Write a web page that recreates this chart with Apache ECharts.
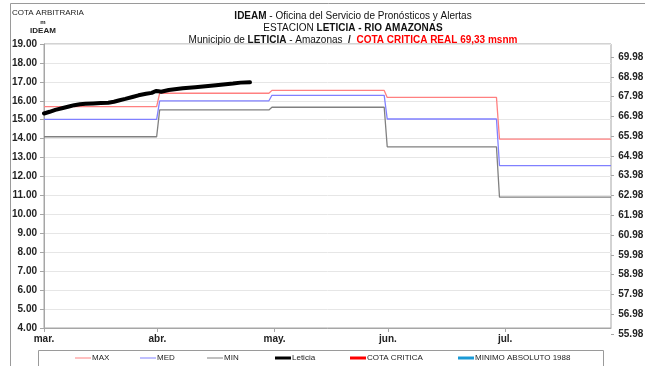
<!DOCTYPE html>
<html>
<head>
<meta charset="utf-8">
<script src="https://cdn.jsdelivr.net/npm/echarts@6/dist/echarts.min.js"></script>
<style>
  html, body { margin: 0; padding: 0; background: #fff; }
  #chart { width: 645px; height: 366px; }
</style>
</head>
<body>
<div id="chart"></div>
<script>
// Monthly stage envelopes (m, arbitrary datum), Mar..Jul; x in days from 1 March
var monthLabels = ['mar.', 'abr.', 'may.', 'jun.', 'jul.'];
var monthTickDays = [0, 30, 61, 91, 122];
var monthStartDays = [0, 30.6, 60.3, 90.8, 120.5];
var periodEndDay = 150;
var maxLevels = [15.69, 16.40, 16.55, 16.18, 13.98];
var medLevels = [15.02, 16.00, 16.29, 15.04, 12.58];
var minLevels = [14.10, 15.52, 15.66, 13.57, 10.91];

// Observed stage at Leticia
var leticiaDays = [0, 1.5, 3, 5, 6.6, 8, 9.5, 11, 13, 15, 17, 18.5, 20, 21.5, 23.4, 25, 27, 28.5, 29.6, 30.3, 31, 33, 36.7, 40, 45.5, 50, 52, 54.5];
var leticiaLevels = [15.33, 15.42, 15.52, 15.62, 15.70, 15.77, 15.82, 15.84, 15.86, 15.88, 15.90, 15.95, 16.03, 16.10, 16.20, 16.29, 16.37, 16.42, 16.52, 16.50, 16.48, 16.57, 16.66, 16.72, 16.82, 16.91, 16.96, 16.98];

// Left axis: arbitrary datum (m). Right axis: elevation in msnm, its own scale
var yMin = 4, yMax = 19, yStep = 1;
var msnmBase = 55.98, msnmSteps = 14;

// Legend entries: name, colour, line thickness, left position
var legendNames = ['MAX', 'MED', 'MIN', 'Leticia', 'COTA CRITICA', 'MINIMO ABSOLUTO 1988'];
var legendColors = ['#ff8080', '#8080ff', '#808080', '#000000', '#ff0000', '#1a9ad6'];
var legendThick = [1, 1, 1, 3, 3, 3];
var legendLeft = [75, 140, 207, 275, 350, 458];

function stepLine(levels) {
  var pts = [];
  for (var i = 0; i < levels.length; i++) {
    var start = monthStartDays[i];
    var end = i + 1 < monthStartDays.length ? monthStartDays[i + 1] - 0.8 : periodEndDay;
    pts.push([start, levels[i]], [end, levels[i]]);
  }
  return pts;
}

function leticiaLine() {
  return leticiaDays.map(function (d, i) { return [d, leticiaLevels[i]]; });
}

var FONT = 'Liberation Sans, Arial, sans-serif';
var chart = echarts.init(document.getElementById('chart'), null, { renderer: 'canvas' });

var legends = legendNames.map(function (name, i) {
  return {
    left: legendLeft[i], top: 354, padding: 0, icon: 'rect', itemWidth: 16, itemHeight: legendThick[i], itemGap: 0,
    selectedMode: false,
    textStyle: { fontFamily: FONT, fontSize: 8, color: '#222', padding: [0, 0, 0, -4] },
    itemStyle: { color: legendColors[i] },
    data: [name]
  };
});

chart.setOption({
  animation: false,
  backgroundColor: '#ffffff',
  textStyle: { fontFamily: FONT },
  grid: [
    { left: 44, right: 34, top: 44, bottom: 38, show: true, borderColor: '#a6a6a6', borderWidth: 1 },
    { left: 611, right: 33, top: 57, bottom: 32 }
  ],
  title: [
    {
      left: 348, textAlign: 'center', top: 5, itemGap: 0,
      text: '{b|IDEAM} - Oficina del Servicio de Pronósticos y Alertas\n' +
            'ESTACION {b|LETICIA - RIO AMAZONAS}\n' +
            'Municipio de {b|LETICIA} - Amazonas  {b|/}  {r|COTA CRITICA REAL 69,33 msnm}',
      textStyle: {
        fontFamily: FONT, fontSize: 10, fontWeight: 'normal', color: '#111', lineHeight: 12, align: 'center',
        rich: {
          b: { fontFamily: FONT, fontSize: 10, fontWeight: 'bold', color: '#111', lineHeight: 12 },
          r: { fontFamily: FONT, fontSize: 10, fontWeight: 'bold', color: '#ff0000', lineHeight: 12 }
        }
      }
    }
  ],
  legend: legends,
  xAxis: [
    {
      type: 'value', min: 0, max: periodEndDay, gridIndex: 0,
      axisLine: { lineStyle: { color: '#a6a6a6' } },
      axisTick: { show: true, length: 4, customValues: monthTickDays, lineStyle: { color: '#a6a6a6' } },
      axisLabel: {
        customValues: monthTickDays, margin: 6,
        fontFamily: FONT, fontSize: 10, fontWeight: 'bold', color: '#222',
        formatter: function (v) { return monthLabels[monthTickDays.indexOf(v)] || ''; }
      },
      splitLine: { show: false }
    },
    { type: 'value', gridIndex: 1, show: false, min: 0, max: 1 }
  ],
  yAxis: [
    {
      type: 'value', min: yMin, max: yMax, interval: yStep, gridIndex: 0,
      axisLine: { show: true, lineStyle: { color: '#a6a6a6' } },
      axisTick: { show: true, length: 4, lineStyle: { color: '#a6a6a6' } },
      axisLabel: { margin: 7, fontFamily: FONT, fontSize: 10, fontWeight: 'bold', color: '#222',
        formatter: function (v) { return v.toFixed(2); } },
      splitLine: { show: true, lineStyle: { color: '#e6e6e6', width: 1 } }
    },
    {
      type: 'value', min: 0, max: msnmSteps, interval: 1, gridIndex: 1, position: 'right',
      axisLine: { show: false },
      axisTick: { show: true, length: 3, lineStyle: { color: '#a6a6a6' } },
      axisLabel: { margin: 7, fontFamily: FONT, fontSize: 10, fontWeight: 'bold', color: '#222',
        formatter: function (v) { return (v + msnmBase).toFixed(2); } },
      splitLine: { show: false }
    }
  ],
  series: [
    { name: 'MAX', type: 'line', symbol: 'none', data: stepLine(maxLevels),
      lineStyle: { color: legendColors[0], width: 1.3 }, itemStyle: { color: legendColors[0] }, z: 2 },
    { name: 'MED', type: 'line', symbol: 'none', data: stepLine(medLevels),
      lineStyle: { color: legendColors[1], width: 1.3 }, itemStyle: { color: legendColors[1] }, z: 2 },
    { name: 'MIN', type: 'line', symbol: 'none', data: stepLine(minLevels),
      lineStyle: { color: legendColors[2], width: 1.3 }, itemStyle: { color: legendColors[2] }, z: 2 },
    { name: 'Leticia', type: 'line', symbol: 'none', data: leticiaLine(),
      lineStyle: { color: legendColors[3], width: 4, cap: 'round', join: 'round' }, itemStyle: { color: legendColors[3] }, z: 4 },
    { name: 'COTA CRITICA', type: 'line', symbol: 'none', data: [],
      lineStyle: { color: legendColors[4], width: 4 }, itemStyle: { color: legendColors[4] } },
    { name: 'MINIMO ABSOLUTO 1988', type: 'line', symbol: 'none', data: [],
      lineStyle: { color: legendColors[5], width: 4 }, itemStyle: { color: legendColors[5] } }
  ],
  graphic: [
    { type: 'rect', silent: true, shape: { x: 10.5, y: 3.5, width: 700, height: 400 },
      style: { fill: null, stroke: '#9a9a9a', lineWidth: 1 } },
    { type: 'rect', silent: true, shape: { x: 38.5, y: 350.5, width: 565, height: 40 },
      style: { fill: null, stroke: '#9a9a9a', lineWidth: 1 } },
    { type: 'text', left: 12, top: 9,
      style: { text: 'COTA ARBITRARIA', fontFamily: FONT, fontSize: 8, fill: '#222' } },
    { type: 'text', x: 43, y: 19,
      style: { text: 'm', fontFamily: FONT, fontSize: 6, fontWeight: 'bold', fill: '#222', align: 'center' } },
    { type: 'text', x: 43, y: 27,
      style: { text: 'IDEAM', fontFamily: FONT, fontSize: 8, fontWeight: 'bold', fill: '#222', align: 'center' } }
  ]
});
</script>
</body>
</html>
